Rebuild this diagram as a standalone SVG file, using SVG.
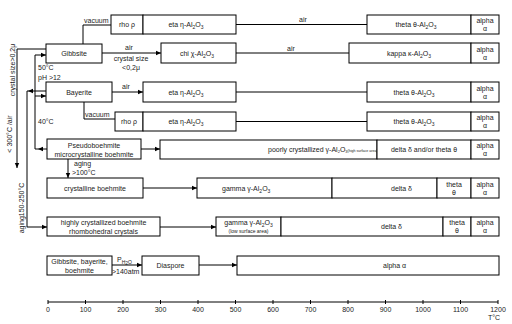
<svg xmlns="http://www.w3.org/2000/svg" width="512" height="324" viewBox="0 0 512 324">
<style>
text{font-family:"Liberation Sans",Arial,sans-serif;font-size:7px;fill:#222}
.b{fill:#fff;stroke:#000;stroke-width:1}
.c{fill:none;stroke:#000;stroke-width:1}
.s{font-size:5px}
.m{text-anchor:middle}
</style>
<defs>
<marker id="a" markerWidth="6" markerHeight="6" refX="5" refY="3" orient="auto" markerUnits="userSpaceOnUse"><path d="M0,0.8 L5,3 L0,5.2z" fill="#000"/></marker>
</defs>
<rect width="512" height="324" fill="#fff"/>
<g id="connectors">
<path class="c" d="M83,44 V25 H111"/>
<path class="c" d="M236,24.5 H367" stroke-width="1.7"/>
<path class="c" d="M102,53 H161" marker-end="url(#a)"/>
<path class="c" d="M236,53 H349"/>
<path class="c" d="M112,92 H143" marker-end="url(#a)"/>
<path class="c" d="M236,92 H367"/>
<path class="c" d="M84,102 V119 H115"/>
<path class="c" d="M236,121.5 H367"/>
<path class="c" d="M141,149 H160" marker-end="url(#a)"/>
<path class="c" d="M68,159 V178" marker-end="url(#a)"/>
<path class="c" d="M143,188 H197" marker-end="url(#a)"/>
<path class="c" d="M160,227 H216" marker-end="url(#a)"/>
<path class="c" d="M112,265 H142" marker-end="url(#a)"/>
<path class="c" d="M199,265 H237" marker-end="url(#a)"/>
<path class="c" d="M46,49 H17 V168" marker-end="url(#a)"/>
<path class="c" d="M47,149 H35 V55 H46" marker-end="url(#a)"/>
<path class="c" d="M35,96 H46" marker-end="url(#a)"/>
<path class="c" d="M46,91 H27 V227 H47" marker-end="url(#a)"/>
<path d="M38,149 L43,146.8 L43,151.2z" fill="#000"/>
<path d="M28,91 L33,88.8 L33,93.2z" fill="#000"/>
</g>
<g id="labels">
<text x="84" y="23">vacuum</text>
<text x="303" y="22" class="m">air</text>
<text x="129" y="50" class="m" font-size="6">air</text>
<text x="131" y="61" class="m">crystal size</text>
<text x="131" y="70" class="m">&lt;0,2μ</text>
<text x="291" y="51" class="m" font-size="6">air</text>
<text x="38" y="70">50°C</text>
<text x="38" y="80">pH &gt;12</text>
<text x="126" y="89" class="m">air</text>
<text x="38" y="124">40°C</text>
<text x="85" y="117">vacuum</text>
<text x="74" y="166">aging</text>
<text x="72" y="175">&gt;100°C</text>
<text x="117" y="262">P<tspan class="s" dy="1.5">H</tspan><tspan class="s" dy="1">2</tspan><tspan class="s" dy="-1">O</tspan></text>
<text x="112" y="274" font-size="6">&gt;140atm</text>
<text transform="translate(14.5,70) rotate(-90)" class="m" font-size="5.8">crystal size&gt;0,2μ</text>
<text transform="translate(11.5,134) rotate(-90)" class="m" font-size="6.5">&lt; 300°C /air</text>
<text transform="translate(23.5,208) rotate(-90)" class="m">aging150-250°C</text>
</g>
<g id="gibbsite"><rect class="b" x="46" y="44" width="56" height="19"/><text x="74" y="56" class="m">Gibbsite</text></g>
<g id="bayerite"><rect class="b" x="46" y="82" width="66" height="20"/><text x="79" y="94.5" class="m">Bayerite</text></g>
<g id="pseudoboehmite"><rect class="b" x="47" y="139" width="94" height="20"/><text x="94" y="147.5" class="m">Pseudoboehmite</text><text x="94" y="156.5" class="m">microcrystalline boehmite</text></g>
<g id="crystalline"><rect class="b" x="47" y="178" width="96" height="20"/><text x="95" y="190.5" class="m">crystalline boehmite</text></g>
<g id="highly"><rect class="b" x="47" y="217" width="113" height="19"/><text x="103.5" y="225" class="m">highly crystallized boehmite</text><text x="103.5" y="234" class="m">rhombohedral crystals</text></g>
<g id="gbb"><rect class="b" x="47" y="256" width="65" height="19"/><text x="79.5" y="264" class="m">Gibbsite, bayerite,</text><text x="79.5" y="273" class="m">boehmite</text></g>
<g id="diaspore"><rect class="b" x="142" y="256" width="57" height="19"/><text x="170.5" y="268" class="m">Diaspore</text></g>

<g id="row1">
<rect class="b" x="111" y="15" width="32" height="19"/><text x="127" y="27" class="m">rho ρ</text>
<rect class="b" x="143" y="15" width="93" height="19"/><text x="186" y="27" class="m">eta  η-Al<tspan class="s" dy="1.5">2</tspan><tspan dy="-1.5">O</tspan><tspan class="s" dy="1.5">3</tspan></text>
<rect class="b" x="367" y="15" width="104" height="19"/><text x="416" y="27" class="m">theta  θ-Al<tspan class="s" dy="1.5">2</tspan><tspan dy="-1.5">O</tspan><tspan class="s" dy="1.5">3</tspan></text>
<rect class="b" x="471" y="15" width="28" height="19"/><text x="485" y="23" class="m">alpha</text><text x="485" y="31" class="m">α</text>
</g>
<g id="row2">
<rect class="b" x="161" y="43" width="75" height="20"/><text x="197" y="56" class="m">chi  χ-Al<tspan class="s" dy="1.5">2</tspan><tspan dy="-1.5">O</tspan><tspan class="s" dy="1.5">3</tspan></text>
<rect class="b" x="349" y="43" width="122" height="20"/><text x="409" y="56" class="m">kappa  κ-Al<tspan class="s" dy="1.5">2</tspan><tspan dy="-1.5">O</tspan><tspan class="s" dy="1.5">3</tspan></text>
<rect class="b" x="471" y="43" width="28" height="20"/><text x="485" y="51.5" class="m">alpha</text><text x="485" y="59.5" class="m">α</text>
</g>
<g id="row3">
<rect class="b" x="143" y="82" width="93" height="20"/><text x="186" y="95" class="m">eta  η-Al<tspan class="s" dy="1.5">2</tspan><tspan dy="-1.5">O</tspan><tspan class="s" dy="1.5">3</tspan></text>
<rect class="b" x="367" y="82" width="104" height="20"/><text x="414" y="95" class="m">theta  θ-Al<tspan class="s" dy="1.5">2</tspan><tspan dy="-1.5">O</tspan><tspan class="s" dy="1.5">3</tspan></text>
<rect class="b" x="471" y="82" width="28" height="20"/><text x="485" y="90.5" class="m">alpha</text><text x="485" y="98.5" class="m">α</text>
</g>
<g id="row4">
<rect class="b" x="115" y="112" width="28" height="19"/><text x="129" y="124" class="m">rho ρ</text>
<rect class="b" x="143" y="112" width="93" height="19"/><text x="186" y="124" class="m">eta  η-Al<tspan class="s" dy="1.5">2</tspan><tspan dy="-1.5">O</tspan><tspan class="s" dy="1.5">3</tspan></text>
<rect class="b" x="367" y="112" width="104" height="19"/><text x="414" y="124" class="m">theta  θ-Al<tspan class="s" dy="1.5">2</tspan><tspan dy="-1.5">O</tspan><tspan class="s" dy="1.5">3</tspan></text>
<rect class="b" x="471" y="112" width="28" height="19"/><text x="485" y="120" class="m">alpha</text><text x="485" y="128" class="m">α</text>
</g>
<g id="row5">
<rect class="b" x="160" y="140" width="217" height="19"/><text x="268" y="152" font-size="5.6">poorly crystallized γ-Al<tspan font-size="4" dy="1.2">2</tspan><tspan dy="-1.2">O</tspan><tspan font-size="4" dy="1.2">3</tspan><tspan font-size="3.6" dy="-1">(high surface area)</tspan></text>
<rect class="b" x="377" y="140" width="94" height="19"/><text x="424" y="152" class="m">delta  δ  and/or theta  θ</text>
<rect class="b" x="471" y="140" width="28" height="19"/><text x="485" y="148" class="m">alpha</text><text x="485" y="156" class="m">α</text>
</g>
<g id="row6">
<rect class="b" x="197" y="178" width="135" height="20"/><text x="222" y="191">gamma γ-Al<tspan class="s" dy="1.5">2</tspan><tspan dy="-1.5">O</tspan><tspan class="s" dy="1.5">3</tspan></text>
<rect class="b" x="332" y="178" width="105" height="20"/><text x="391" y="191">delta  δ</text>
<rect class="b" x="437" y="178" width="34" height="20"/><text x="454" y="186.5" class="m">theta</text><text x="454" y="194.5" class="m">θ</text>
<rect class="b" x="471" y="178" width="28" height="20"/><text x="485" y="186.5" class="m">alpha</text><text x="485" y="194.5" class="m">α</text>
</g>
<g id="row7">
<rect class="b" x="216" y="217" width="65" height="19"/><text x="248.5" y="225" class="m">gamma γ-Al<tspan class="s" dy="1.5">2</tspan><tspan dy="-1.5">O</tspan><tspan class="s" dy="1.5">3</tspan></text><text x="248.5" y="233" class="m s">(low surface area)</text>
<rect class="b" x="281" y="217" width="162" height="19"/><text x="381" y="229">delta  δ</text>
<rect class="b" x="443" y="217" width="28" height="19"/><text x="457" y="225" class="m">theta</text><text x="457" y="233" class="m">θ</text>
<rect class="b" x="471" y="217" width="28" height="19"/><text x="485" y="225" class="m">alpha</text><text x="485" y="233" class="m">α</text>
</g>
<g id="row8">
<rect class="b" x="237" y="256" width="262" height="19"/><text x="383" y="268">alpha α</text>
</g>
<g id="axis">
<path class="c" d="M48,302 H498 M48,300 V304 M85.5,300 V304 M123,300 V304 M160.5,300 V304 M198,300 V304 M235.5,300 V304 M273,300 V304 M310.5,300 V304 M348,300 V304 M385.5,300 V304 M423,300 V304 M460.5,300 V304 M498,300 V304"/>
<text x="48" y="312" class="m">0</text><text x="85.5" y="312" class="m">100</text><text x="123" y="312" class="m">200</text><text x="160.5" y="312" class="m">300</text><text x="198" y="312" class="m">400</text><text x="235.5" y="312" class="m">500</text><text x="273" y="312" class="m">600</text><text x="310.5" y="312" class="m">700</text><text x="348" y="312" class="m">800</text><text x="385.5" y="312" class="m">900</text><text x="423" y="312" class="m">1000</text><text x="460.5" y="312" class="m">1100</text><text x="498" y="312" class="m">1200</text>
<text x="494" y="320" class="m">T°C</text>
</g>
</svg>
